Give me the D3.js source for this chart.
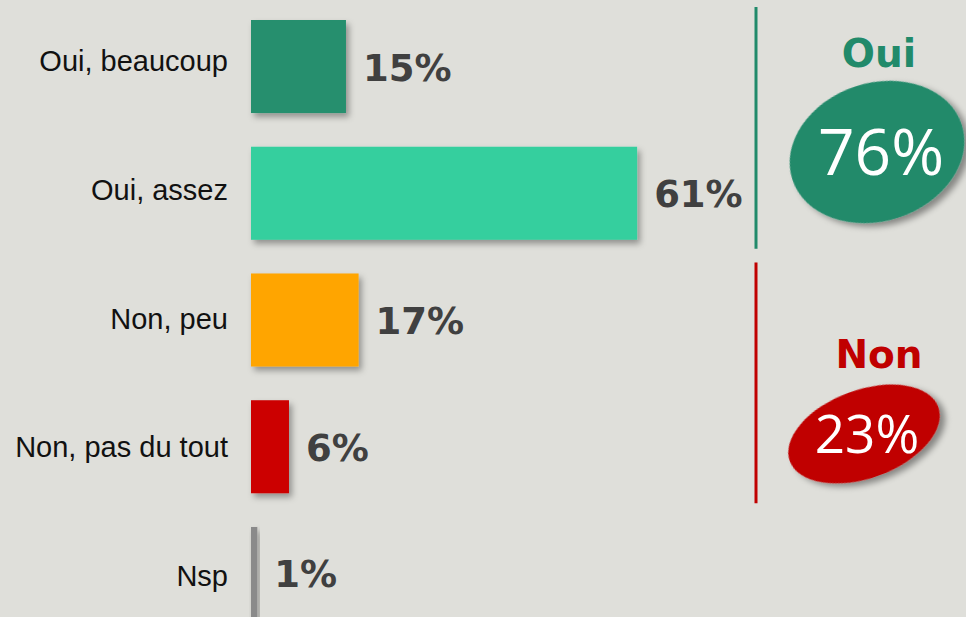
<!DOCTYPE html>
<html><head><meta charset="utf-8">
<script src="https://cdn.jsdelivr.net/npm/d3@7"></script>
<style>html,body{margin:0;padding:0;background:#dfdfda;overflow:hidden}</style>
</head><body>
<svg id="c" width="966" height="617"></svg>
<script>
const categories = ["Oui, beaucoup", "Oui, assez", "Non, peu", "Non, pas du tout", "Nsp"];
const values = [15, 61, 17, 6, 1];
const colors = ["#258f6e", "#35cf9e", "#ffa506", "#cc0000", "#8a8a8a"];
const groupNames = ["Oui", "Non"];
const groupTotals = [76, 23];
const groupColors = ["#218a6a", "#c00000"];

const svg = d3.select("#c");
svg.append("rect").attr("width", 966).attr("height", 617).attr("fill", "#dfdfda");
const defs = svg.append("defs");
const f = defs.append("filter").attr("id", "sh").attr("x", "-20%").attr("y", "-20%").attr("width", "150%").attr("height", "150%");
f.append("feDropShadow").attr("dx", 3).attr("dy", 4).attr("stdDeviation", 3).attr("flood-color", "#000").attr("flood-opacity", 0.35);
const f2 = defs.append("filter").attr("id", "sh2").attr("x", "-20%").attr("y", "-20%").attr("width", "150%").attr("height", "150%");
f2.append("feDropShadow").attr("dx", 4).attr("dy", 5).attr("stdDeviation", 3).attr("flood-color", "#000").attr("flood-opacity", 0.4);

const x = d3.scaleLinear().domain([0, 100]).range([251, 884]);
const y = d3.scaleBand().domain(categories).range([20, 620]).paddingInner(0.266).paddingOuter(0);
const yLab = d3.scalePoint().domain(categories).range([71, 586]);

const rows = svg.selectAll("g.row").data(categories).join("g").attr("class", "row");
rows.append("rect")
  .attr("x", x(0)).attr("y", d => y(d))
  .attr("width", (d, i) => x(values[i]) - x(0))
  .attr("height", y.bandwidth())
  .attr("fill", (d, i) => colors[i])
  .attr("filter", "url(#sh)");
rows.append("text")
  .attr("x", 228).attr("y", d => yLab(d))
  .attr("text-anchor", "end")
  .attr("font-family", "'Liberation Sans', Arial, sans-serif")
  .attr("font-size", 29).attr("fill", "#111")
  .text(d => d);
rows.append("text")
  .attr("x", (d, i) => x(values[i]) + 17)
  .attr("y", d => y(d) + y.bandwidth() / 2 + 14)
  .attr("font-family", "'DejaVu Sans', Verdana, sans-serif")
  .attr("font-weight", "bold")
  .attr("font-size", 37).attr("fill", "#404040")
  .text((d, i) => values[i] + "%");

// group summaries
const lineX = 756;
const gInfo = [
  {y0: y(categories[0]) - 13, y1: y(categories[1]) + y.bandwidth() + 9, labelY: 67, ex: 877, ey: 152, rx: 89, ry: 69, rot: -18, numX: 881, numY: 175, numSize: 64},
  {y0: y(categories[2]) - 11, y1: y(categories[3]) + y.bandwidth() + 10, labelY: 368, ex: 864, ey: 434, rx: 79, ry: 44, rot: -20, numX: 867, numY: 453, numSize: 53}
];
gInfo.forEach((g, i) => {
  svg.append("line").attr("x1", lineX).attr("x2", lineX).attr("y1", g.y0).attr("y2", g.y1)
    .attr("stroke", groupColors[i]).attr("stroke-width", 3);
  svg.append("text").attr("x", 879).attr("y", g.labelY).attr("text-anchor", "middle")
    .attr("font-family", "'DejaVu Sans', Verdana, sans-serif").attr("font-weight", "bold")
    .attr("font-size", 39).attr("fill", groupColors[i]).text(groupNames[i]);
  svg.append("ellipse").attr("cx", 0).attr("cy", 0).attr("rx", g.rx).attr("ry", g.ry)
    .attr("transform", `translate(${g.ex},${g.ey}) rotate(${g.rot})`)
    .attr("fill", groupColors[i]).attr("filter", "url(#sh2)");
  svg.append("text").attr("x", g.numX).attr("y", g.numY).attr("text-anchor", "middle")
    .attr("font-family", "'Open Sans', sans-serif").attr("font-size", g.numSize)
    .attr("fill", "#fff").text(groupTotals[i] + "%");
});
</script>
</body></html>
